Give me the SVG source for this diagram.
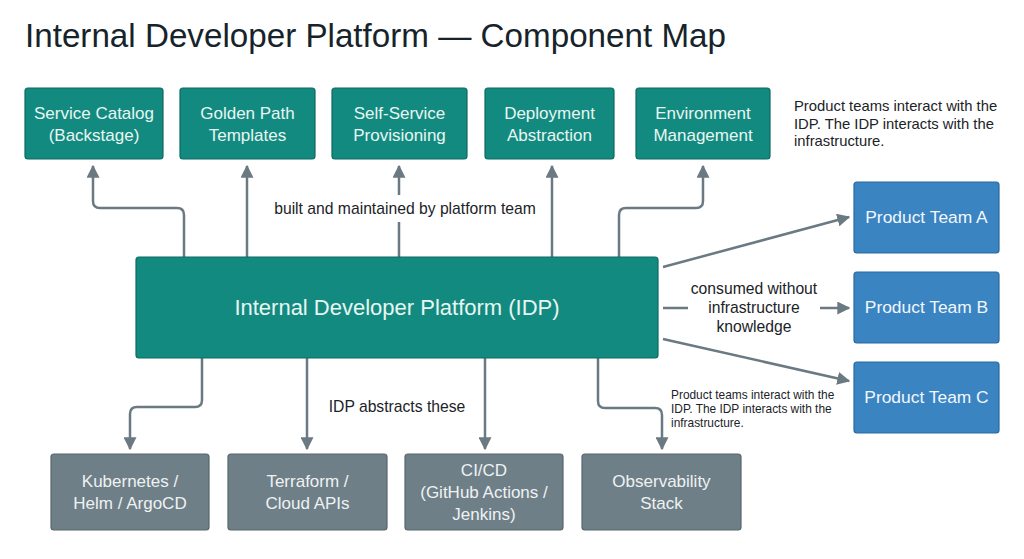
<svg xmlns="http://www.w3.org/2000/svg" width="1024" height="559" viewBox="0 0 1024 559">
<defs>
<style>
text{font-family:"Liberation Sans","DejaVu Sans",sans-serif}
.title{font-size:33.2px;fill:#17232b}
.teal rect{fill:#138a7f;stroke:#0d6b62;stroke-width:1.2}
.teal text{fill:#e8f6f3;font-size:17px;text-anchor:middle}
.blue rect{fill:#3a84c2;stroke:#2a68a0;stroke-width:1.2}
.blue text{fill:#f2f7fc;font-size:17.4px;text-anchor:middle}
.grey rect{fill:#6e7f87;stroke:#56666d;stroke-width:1.2}
.grey text{fill:#eef2f3;font-size:17px;text-anchor:middle}
.lbl{font-size:15.7px;fill:#1b2328}
.note{font-size:14.8px;fill:#1b2328}
.note2{font-size:11.9px;fill:#1b2328}
.edge{fill:none;stroke:#6b7a82;stroke-width:2.5;stroke-linejoin:round}
</style>
<marker id="ah" viewBox="0 0 10 10" refX="9" refY="5" markerWidth="5.2" markerHeight="5.2" markerUnits="strokeWidth" orient="auto">
<path d="M0,0 L10,5 L0,10 z" fill="#6b7a82"/>
</marker>
</defs>
<rect width="1024" height="559" fill="#ffffff"/>
<text class="title" x="25" y="47">Internal Developer Platform — Component Map</text>

<g id="connectors">
<path class="edge" d="M184,257 V215 Q184,208 177,208 H100 Q93,208 93,201 V166" marker-end="url(#ah)"/>
<path class="edge" d="M247,257 V166" marker-end="url(#ah)"/>
<path class="edge" d="M399,257 V222 M399,195 V166" marker-end="url(#ah)"/>
<path class="edge" d="M552,257 V166" marker-end="url(#ah)"/>
<path class="edge" d="M619,257 V215 Q619,208 626,208 H696 Q703,208 703,201 V166" marker-end="url(#ah)"/>
<path class="edge" d="M663,267 L849,217" marker-end="url(#ah)"/>
<path class="edge" d="M663,308 H688 M820,308 H849" marker-end="url(#ah)"/>
<path class="edge" d="M663,339 L849,381" marker-end="url(#ah)"/>
<path class="edge" d="M202,358 V400 Q202,407 195,407 H137 Q130,407 130,414 V449" marker-end="url(#ah)"/>
<path class="edge" d="M307,358 V449" marker-end="url(#ah)"/>
<path class="edge" d="M485,358 V449" marker-end="url(#ah)"/>
<path class="edge" d="M598,358 V401 Q598,408 605,408 H655 Q662,408 662,415 V449" marker-end="url(#ah)"/>
<text class="lbl" x="405" y="214" text-anchor="middle">built and maintained by platform team</text>
<text class="lbl" x="754" y="294" text-anchor="middle">consumed without</text>
<text class="lbl" x="754" y="313" text-anchor="middle">infrastructure</text>
<text class="lbl" x="754" y="332" text-anchor="middle">knowledge</text>
<text class="lbl" x="397" y="412" text-anchor="middle">IDP abstracts these</text>
</g>

<g id="service-catalog" class="teal"><rect x="25" y="88" width="138" height="71" rx="3"/><text x="94" y="119">Service Catalog</text><text x="94" y="141">(Backstage)</text></g>
<g id="golden-path" class="teal"><rect x="180" y="88" width="135" height="71" rx="3"/><text x="247.5" y="119">Golden Path</text><text x="247.5" y="141">Templates</text></g>
<g id="self-service" class="teal"><rect x="332" y="88" width="135" height="71" rx="3"/><text x="399.5" y="119">Self-Service</text><text x="399.5" y="141">Provisioning</text></g>
<g id="deployment" class="teal"><rect x="485" y="88" width="129" height="71" rx="3"/><text x="549.5" y="119">Deployment</text><text x="549.5" y="141">Abstraction</text></g>
<g id="environment" class="teal"><rect x="636" y="88" width="134" height="71" rx="3"/><text x="703" y="119">Environment</text><text x="703" y="141">Management</text></g>

<g id="note-top">
<text class="note" x="794" y="111">Product teams interact with the</text>
<text class="note" x="794" y="129">IDP. The IDP interacts with the</text>
<text class="note" x="794" y="146">infrastructure.</text>
</g>

<g id="idp" class="teal"><rect x="136" y="257" width="522" height="101" rx="3"/><text x="397" y="315" style="font-size:22px">Internal Developer Platform (IDP)</text></g>

<g id="team-a" class="blue"><rect x="854" y="182" width="145" height="71" rx="3"/><text x="926.5" y="223">Product Team A</text></g>
<g id="team-b" class="blue"><rect x="854" y="272" width="145" height="71" rx="3"/><text x="926.5" y="313">Product Team B</text></g>
<g id="team-c" class="blue"><rect x="854" y="362" width="145" height="71" rx="3"/><text x="926.5" y="403">Product Team C</text></g>

<g id="note-bottom">
<text class="note2" x="671" y="399">Product teams interact with the</text>
<text class="note2" x="671" y="413">IDP. The IDP interacts with the</text>
<text class="note2" x="671" y="427">infrastructure.</text>
</g>

<g id="kubernetes" class="grey"><rect x="51" y="454" width="158" height="76" rx="3"/><text x="130" y="487">Kubernetes /</text><text x="130" y="509">Helm / ArgoCD</text></g>
<g id="terraform" class="grey"><rect x="228" y="454" width="159" height="76" rx="3"/><text x="307.5" y="487">Terraform /</text><text x="307.5" y="509">Cloud APIs</text></g>
<g id="cicd" class="grey"><rect x="405" y="454" width="158" height="76" rx="3"/><text x="484" y="476">CI/CD</text><text x="484" y="498">(GitHub Actions /</text><text x="484" y="520">Jenkins)</text></g>
<g id="observability" class="grey"><rect x="582" y="454" width="159" height="76" rx="3"/><text x="661.5" y="487">Observability</text><text x="661.5" y="509">Stack</text></g>
</svg>
